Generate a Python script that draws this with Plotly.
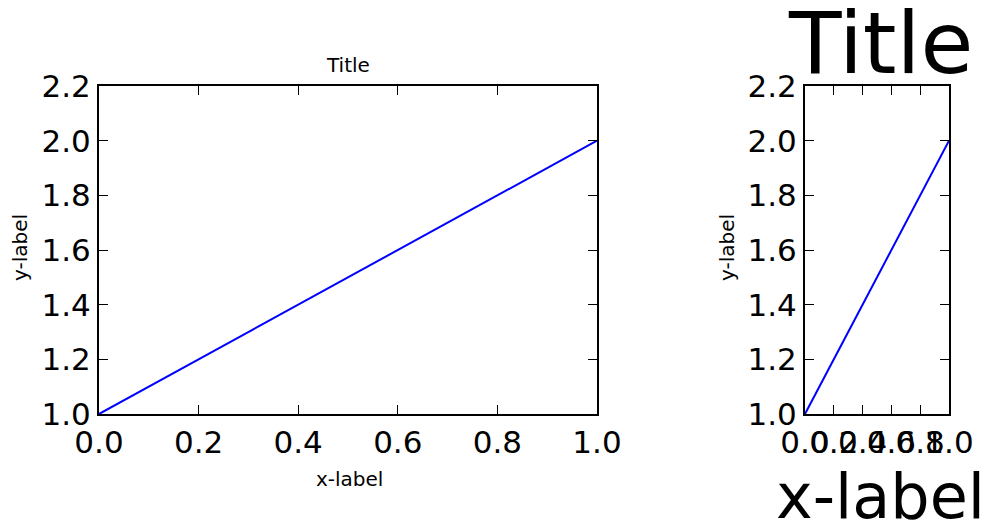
import plotly.graph_objects as go

x_vals = [0.0, 1.0]
y_vals = [1.0, 2.0]
x_ticks = [0.0, 0.2, 0.4, 0.6, 0.8, 1.0]
y_ticks = [1.0, 1.2, 1.4, 1.6, 1.8, 2.0, 2.2]

W, H = 992, 527
FONT = "DejaVu Sans"

def px(x):
    return x / W

def py(y):
    return 1 - y / H

fig = go.Figure()
fig.add_trace(go.Scatter(x=x_vals, y=y_vals, mode="lines", line=dict(color="#0000ff", width=2),
                         xaxis="x", yaxis="y", showlegend=False))
fig.add_trace(go.Scatter(x=x_vals, y=y_vals, mode="lines", line=dict(color="#0000ff", width=2),
                         xaxis="x2", yaxis="y2", showlegend=False))

axis_common = dict(showline=True, linecolor="black", linewidth=2, mirror="allticks",
                   ticks="inside", ticklen=9, tickwidth=1, tickcolor="black",
                   showgrid=False, zeroline=False, tickformat=".1f", automargin=False,
                   tickangle=0,
                   tickfont=dict(family=FONT, size=31, color="black"))

fig.update_layout(
    width=W, height=H,
    margin=dict(l=0, r=0, t=0, b=0),
    paper_bgcolor="white", plot_bgcolor="white",
    xaxis=dict(domain=[px(99), px(597)], range=[0, 1], tickvals=x_ticks, anchor="y", **axis_common),
    yaxis=dict(domain=[py(414), py(86)], range=[1.0, 2.2], tickvals=y_ticks, anchor="x", **axis_common),
    xaxis2=dict(domain=[px(805), px(949)], range=[0, 1], tickvals=x_ticks, anchor="y2", **axis_common),
    yaxis2=dict(domain=[py(414), py(86)], range=[1.0, 2.2], tickvals=y_ticks, anchor="x2", **axis_common),
)

def ann(text, x, y, size, angle=0):
    fig.add_annotation(text=text, x=px(x), y=py(y), xref="paper", yref="paper",
                       showarrow=False, textangle=angle, xanchor="center", yanchor="middle",
                       font=dict(family=FONT, size=size, color="black"))

ann("Title", 348, 65, 20)
ann("x-label", 349, 479, 20)
ann("y-label", 20, 248, 20, -90)
ann("Title", 880, 43, 86)
ann("x-label", 880, 496, 62)
ann("y-label", 727, 248, 20, -90)

fig.write_html("out.html", config={"displayModeBar": False},
               post_script="document.body.style.margin='0';document.body.style.overflow='hidden';")
